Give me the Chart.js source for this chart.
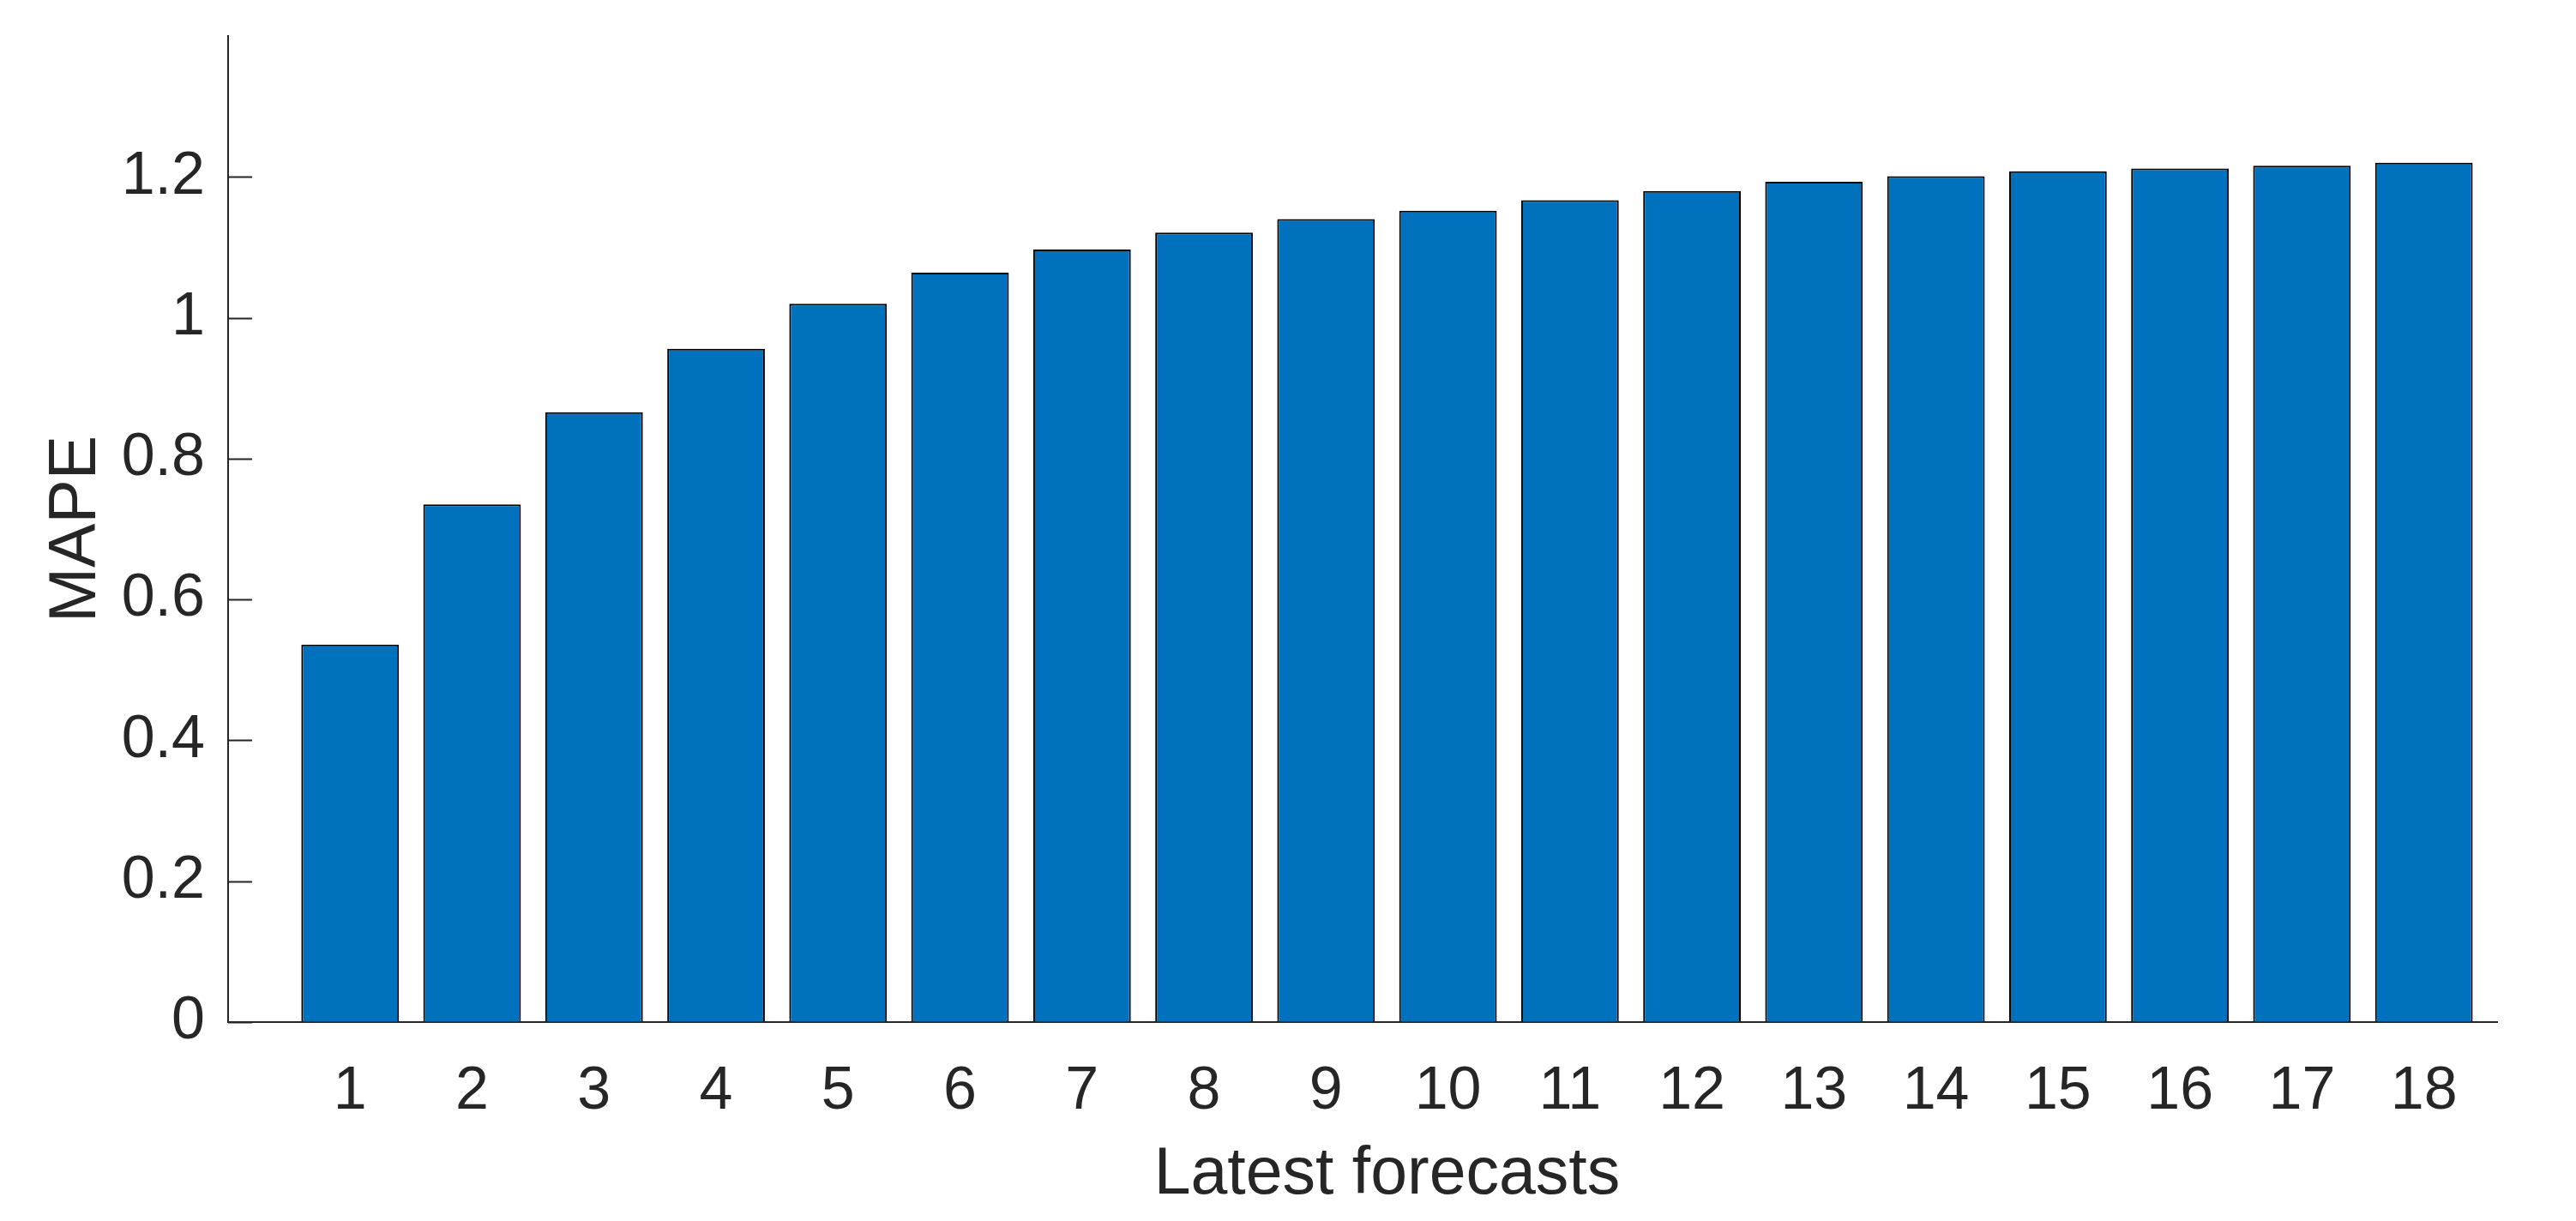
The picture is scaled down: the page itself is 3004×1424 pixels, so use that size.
<!DOCTYPE html>
<html>
<head>
<meta charset="utf-8">
<title>MAPE by forecast</title>
<script src="https://cdn.jsdelivr.net/npm/chart.js@4"></script>
<style>
  html, body { margin: 0; padding: 0; background: #fff; overflow: hidden; }
  canvas { display: block; }
</style>
</head>
<body>
<canvas id="mapeChart" width="3004" height="1424"></canvas>
<script>
// values
const forecastSteps = [1, 2, 3, 4, 5, 6, 7, 8, 9, 10, 11, 12, 13, 14, 15, 16, 17, 18];
const mapeValues = [0.536, 0.735, 0.866, 0.956, 1.020, 1.064, 1.097, 1.121, 1.140,
                    1.152, 1.167, 1.180, 1.193, 1.201, 1.208, 1.212, 1.216, 1.220];
const yTickValues = [0, 0.2, 0.4, 0.6, 0.8, 1, 1.2];
const xLabel = 'Latest forecasts';

const FONT = '"Liberation Sans", Arial, Helvetica, sans-serif';
const TEXT = '#262626';

// MATLAB-style inward y ticks, plus the x label (matlab centres it a bit right of the axis middle)
const matlabBits = {
    id: 'matlabBits',
    afterDraw(chart) {
        const x = chart.scales.x, y = chart.scales.y, area = chart.chartArea, ctx = chart.ctx;
        ctx.save();
        ctx.strokeStyle = TEXT;
        ctx.lineWidth = 2;
        ctx.beginPath();
        for (const t of y.ticks) {
            const py = Math.round(y.getPixelForValue(t.value)) + 0.5;
            ctx.moveTo(area.left, py);
            ctx.lineTo(area.left + 28, py);
        }
        ctx.stroke();

        ctx.fillStyle = TEXT;
        ctx.font = '77px ' + FONT;
        ctx.textAlign = 'center';
        ctx.textBaseline = 'middle';
        ctx.fillText(xLabel, x.getPixelForValue(9.5), 1371);
        ctx.restore();
    }
};

new Chart(document.getElementById('mapeChart'), {
    type: 'bar',
    data: {
        datasets: [{
            data: forecastSteps.map((s, i) => ({ x: s, y: mapeValues[i] })),
            backgroundColor: '#0072BD',
            borderColor: '#000000',
            borderWidth: 2,
            barPercentage: 0.8,
            categoryPercentage: 1.0
        }]
    },
    options: {
        responsive: false,
        animation: false,
        layout: { padding: { top: 42, right: 92, left: 0, bottom: 0 } },
        plugins: { legend: { display: false }, tooltip: { enabled: false } },
        scales: {
            x: {
                type: 'linear',
                min: 0,
                max: 18.6,
                offset: false,
                afterBuildTicks: s => { s.ticks = forecastSteps.map(v => ({ value: v })); },
                afterFit: s => { s.height = 232; },
                grid: { display: true, drawOnChartArea: false, drawTicks: false, offset: false },
                border: { display: true, color: TEXT, width: 2 },
                ticks: {
                    padding: 40,
                    color: TEXT,
                    font: { family: FONT, size: 70 },
                    maxRotation: 0,
                    autoSkip: false,
                    callback: v => String(v)
                }
            },
            y: {
                min: 0,
                max: 1.4,
                afterBuildTicks: s => { s.ticks = yTickValues.map(v => ({ value: v })); },
                afterFit: s => { s.width = 266; s.paddingTop = 0; s.paddingBottom = 0; },
                grid: { display: true, drawOnChartArea: false, drawTicks: false },
                border: { display: true, color: TEXT, width: 2 },
                ticks: {
                    padding: 27,
                    color: TEXT,
                    font: { family: FONT, size: 70 },
                    callback: v => String(+v.toFixed(1))
                },
                title: {
                    display: true,
                    text: 'MAPE',
                    color: TEXT,
                    font: { family: FONT, size: 77, lineHeight: 1 },
                    padding: { top: 51, bottom: 0 }
                }
            }
        }
    },
    plugins: [matlabBits]
});
</script>
</body>
</html>
